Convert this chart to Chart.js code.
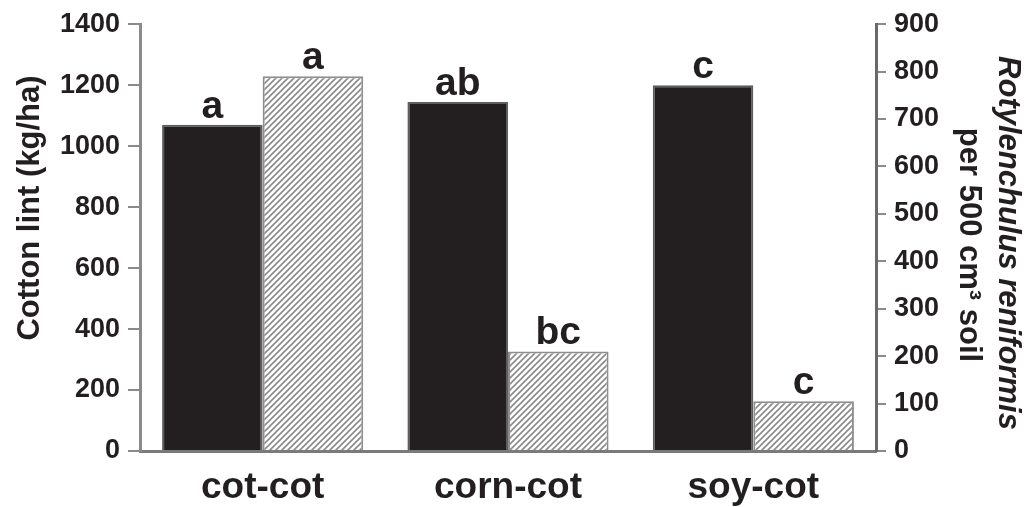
<!DOCTYPE html>
<html>
<head>
<meta charset="utf-8">
<script src="https://cdn.jsdelivr.net/npm/chart.js@4.4.1/dist/chart.umd.min.js"></script>
<style>
  body { margin: 0; background: #fff; }
  #wrap { width: 1035px; height: 507px; }
</style>
</head>
<body>
<div id="wrap"><canvas id="yieldChart" width="1035" height="507"></canvas></div>
<script>
// rotations and values
var rotations = ["cot-cot", "corn-cot", "soy-cot"];
var lintYield = [1070, 1145, 1200];        // kg/ha, left axis
var reniformCount = [790, 210, 105];       // per 500 cm3 soil, right axis
var lintLetters = ["a", "ab", "c"];
var reniformLetters = ["a", "bc", "c"];
var lintTicks = [0, 200, 400, 600, 800, 1000, 1200, 1400];
var reniformTicks = [0, 100, 200, 300, 400, 500, 600, 700, 800, 900];

var FONT = "'Liberation Sans', Arial, Helvetica, sans-serif";

var canvas = document.getElementById("yieldChart");
var ctx = canvas.getContext("2d");

// diagonal hatch for the nematode bars
function makeHatch() {
  var t = document.createElement("canvas");
  t.width = 6; t.height = 6;
  var g = t.getContext("2d");
  g.fillStyle = "#ffffff";
  g.fillRect(0, 0, 6, 6);
  g.strokeStyle = "#8a8a8a";
  g.lineWidth = 1.6;
  g.beginPath();
  g.moveTo(0, 6); g.lineTo(6, 0);
  g.moveTo(-1, 1); g.lineTo(1, -1);
  g.moveTo(5, 7); g.lineTo(7, 5);
  g.stroke();
  return ctx.createPattern(t, "repeat");
}

// plain numbers, no thousands separator
function plainTick(v) { return String(v); }

// letters above each bar
var letterPlugin = {
  id: "letters",
  afterDatasetsDraw: function (chart) {
    var c = chart.ctx;
    var sets = [lintLetters, reniformLetters];
    c.save();
    c.fillStyle = "#231f20";
    c.font = "bold 39px " + FONT;
    c.textAlign = "center";
    c.textBaseline = "alphabetic";
    sets.forEach(function (letters, di) {
      chart.getDatasetMeta(di).data.forEach(function (bar, i) {
        c.fillText(letters[i], bar.x, bar.y - 7);
      });
    });
    c.restore();
  }
};

// axis titles, the right one mixes italic and upright text
function rotatedText(c, text, x, y, angle, font) {
  c.save();
  c.fillStyle = "#231f20";
  c.textAlign = "center";
  c.textBaseline = "middle";
  c.translate(x, y);
  c.rotate(angle);
  c.font = font;
  c.fillText(text, 0, 0);
  c.restore();
}

var titlePlugin = {
  id: "axisTitles",
  afterDraw: function (chart) {
    var c = chart.ctx;
    rotatedText(c, "Cotton lint (kg/ha)", 30, 208, -Math.PI / 2, "bold 31px " + FONT);
    rotatedText(c, "Rotylenchulus reniformis", 1008, 243, Math.PI / 2, "italic bold 31px " + FONT);
    rotatedText(c, "per 500 cm\u00b3 soil", 969, 245, Math.PI / 2, "bold 31px " + FONT);
  }
};

new Chart(ctx, {
  type: "bar",
  data: {
    labels: rotations,
    datasets: [
      {
        label: "Cotton lint",
        data: lintYield,
        yAxisID: "y",
        backgroundColor: "#231f20",
        borderColor: "#5e5e5e",
        borderWidth: 2,
        barPercentage: 1,
        categoryPercentage: 0.82
      },
      {
        label: "Rotylenchulus reniformis",
        data: reniformCount,
        yAxisID: "y1",
        backgroundColor: makeHatch(),
        borderColor: "#8e8e8e",
        borderWidth: 2,
        barPercentage: 1,
        categoryPercentage: 0.82
      }
    ]
  },
  options: {
    responsive: false,
    animation: false,
    layout: { padding: { top: 22, left: 0, right: 0, bottom: 0 } },
    plugins: {
      legend: { display: false },
      tooltip: { enabled: false }
    },
    scales: {
      x: {
        grid: { display: true, drawOnChartArea: false, drawTicks: false },
        border: { display: true, color: "#7a7a7a", width: 3 },
        ticks: {
          color: "#231f20",
          padding: 15,
          font: { family: FONT, size: 37, weight: "bold" }
        },
        afterFit: function (s) { s.height = 56; }
      },
      y: {
        position: "left",
        min: 0,
        max: 1400,
        afterBuildTicks: function (s) {
          s.ticks = lintTicks.map(function (v) { return { value: v }; });
        },
        grid: { drawOnChartArea: false, tickLength: 12, tickColor: "#8a8a8a", lineWidth: 2 },
        border: { color: "#8a8a8a", width: 3 },
        ticks: {
          color: "#231f20",
          padding: 8,
          callback: plainTick,
          font: { family: FONT, size: 27, weight: "bold" }
        },
        afterFit: function (s) { s.width = 140; }
      },
      y1: {
        position: "right",
        min: 0,
        max: 900,
        afterBuildTicks: function (s) {
          s.ticks = reniformTicks.map(function (v) { return { value: v }; });
        },
        grid: { drawOnChartArea: false, tickLength: 10, tickColor: "#8a8a8a", lineWidth: 2 },
        border: { color: "#6a6a6a", width: 3 },
        ticks: {
          color: "#231f20",
          padding: 8,
          callback: plainTick,
          font: { family: FONT, size: 27, weight: "bold" }
        },
        afterFit: function (s) { s.width = 159; }
      }
    }
  },
  plugins: [letterPlugin, titlePlugin]
});
</script>
</body>
</html>
